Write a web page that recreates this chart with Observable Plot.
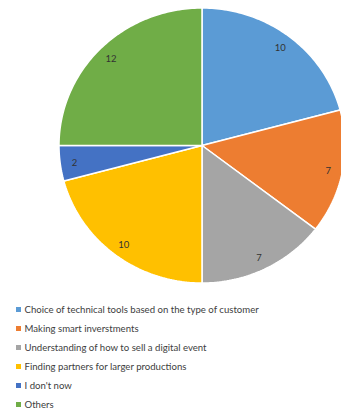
<!DOCTYPE html>
<html><head><meta charset="utf-8">
<script src="https://cdn.jsdelivr.net/npm/d3@7"></script>
<script src="https://cdn.jsdelivr.net/npm/@observablehq/plot@0.6"></script>
<style>
body{margin:0;background:#fff;overflow:hidden;font-family:Lato,"Liberation Sans",sans-serif;}
#chart svg{display:block;}
#legend{padding:7.5px 0 0 16px;}
.row{height:19px;line-height:19px;font-size:9.6px;color:#404040;display:flex;align-items:center;white-space:nowrap;}
.sw{width:5px;height:5px;margin-right:3.5px;flex:none;}
</style></head><body>
<div id="chart"></div>
<div id="legend"></div>
<script>
const categories = [
  "Choice of technical tools based on the type of customer",
  "Making smart inverstments",
  "Understanding of how to sell a digital event",
  "Finding partners for larger productions",
  "I don't now",
  "Others"
];
const values = [10, 7, 7, 10, 2, 12];
const colors = ["#5B9BD5", "#ED7D31", "#A5A5A5", "#FFC000", "#4472C4", "#70AD47"];

const W = 341, H = 292;
const cx = 201.5, cy = 145, rx = 143, ry = 137.5, labelK = 0.9;

const arcs = d3.pie().sort(null).value(d => d.value)(categories.map((c, i) => ({cat: c, value: values[i]})));
const pts = [];
for (const a of arcs) {
  const cat = a.data.cat;
  pts.push({cat, x: cx, y: cy});
  const n = Math.max(4, Math.ceil((a.endAngle - a.startAngle) / (Math.PI / 180)));
  for (let k = 0; k <= n; k++) {
    const t = a.startAngle + (a.endAngle - a.startAngle) * k / n;
    pts.push({cat, x: cx + rx * Math.sin(t), y: cy - ry * Math.cos(t)});
  }
  pts.push({cat, x: cx, y: cy});
}
const labels = arcs.map(a => {
  const t = (a.startAngle + a.endAngle) / 2;
  return {text: String(a.data.value), x: cx + labelK * rx * Math.sin(t), y: cy - labelK * ry * Math.cos(t) + 1};
});

const plot = Plot.plot({
  width: W, height: H, margin: 0,
  style: {background: "white", fontFamily: "Lato, 'Liberation Sans', sans-serif"},
  x: {domain: [0, W], range: [0, W], axis: null},
  y: {domain: [0, H], range: [0, H], axis: null},
  color: {domain: categories, range: colors},
  marks: [
    Plot.line(pts, {x: "x", y: "y", z: "cat", fill: "cat", stroke: "white", strokeWidth: 1.5, strokeLinejoin: "miter"}),
    Plot.text(labels, {x: "x", y: "y", text: "text", fontSize: 9.5, fill: "#333"})
  ]
});
document.getElementById("chart").appendChild(plot);

const color = plot.scale("color");
const legend = document.getElementById("legend");
for (const c of categories) {
  const row = document.createElement("div");
  row.className = "row";
  const sw = document.createElement("span");
  sw.className = "sw";
  sw.style.background = color.apply(c);
  const tx = document.createElement("span");
  tx.textContent = c;
  row.appendChild(sw); row.appendChild(tx);
  legend.appendChild(row);
}
</script>
</body></html>
